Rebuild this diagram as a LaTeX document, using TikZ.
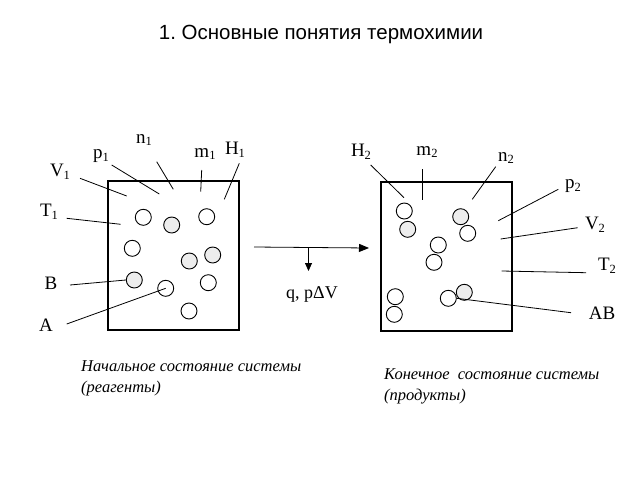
\documentclass[tikz,border=0pt]{standalone}
\usepackage{fontspec}
\setmainfont{Liberation Serif}
\newfontfamily\titlefont{Liberation Sans}
\usetikzlibrary{arrows.meta}
\newcommand{\sbs}[1]{\raisebox{-0.3ex}{\fontsize{12.5}{12.5}\selectfont #1}}
\frenchspacing
\begin{document}
\begin{tikzpicture}[x=1pt,y=-1pt,
  lbl/.style={font=\fontsize{19}{19}\selectfont, inner sep=0},
  ball/.style={circle, draw, line width=0.9pt, minimum size=16pt, inner sep=0},
  sball/.style={ball, fill=gray!14},
  ln/.style={line width=0.8pt},
  sysbox/.style={draw, line width=1.2pt, minimum width=131pt, minimum height=149pt, inner sep=0},
  capt/.style={font=\fontsize{16.5}{21}\selectfont\itshape, align=left, anchor=north west, inner sep=0}]
\useasboundingbox (0,0) rectangle (640,480);
% title
\node[font=\titlefont\fontsize{20.5}{20.5}\selectfont, inner sep=0] (title) at (321,34) {1. Основные понятия термохимии};
% boxes
\node[sysbox] (L) at (173.5,255.5) {};
\node[sysbox] (R) at (446.5,256.5) {};
% left balls
\node[ball]  (l1) at (143.3,217.3) {};
\node[sball] (l2) at (171.7,225) {};
\node[ball]  (l3) at (206.7,216.7) {};
\node[ball]  (l4) at (132.3,248.3) {};
\node[sball] (l5) at (212.7,255) {};
\node[sball] (l6) at (189.3,261) {};
\node[sball] (lB) at (134.3,280) {};
\node[ball]  (l8) at (208.3,282.7) {};
\node[ball]  (lA) at (165.7,288.3) {};
\node[ball]  (l10) at (189,311) {};
% right balls
\node[ball]  (r1) at (404.3,211) {};
\node[sball] (r2) at (407.7,229.3) {};
\node[sball] (r3) at (460.7,216.7) {};
\node[ball]  (r4) at (467.7,233.3) {};
\node[ball]  (r5) at (438.3,245) {};
\node[ball]  (r6) at (434,262.3) {};
\node[ball]  (r7) at (395.3,296.7) {};
\node[ball]  (r8) at (394.3,314.3) {};
\node[ball]  (rAB) at (448.3,298.3) {};
\node[sball] (r10) at (464.3,292.3) {};
% left labels
\node[lbl] (n1) at (144,140) {n\sbs{1}};
\node[lbl] (p1) at (101,156) {p\sbs{1}};
\node[lbl] (m1) at (205,154) {m\sbs{1}};
\node[lbl] (H1) at (235,150) {H\sbs{1}};
\node[lbl] (V1) at (60,172) {V\sbs{1}};
\node[lbl] (T1) at (49,212) {T\sbs{1}};
\node[lbl] (B)  at (51,283) {B};
\node[lbl] (A)  at (46,325) {A};
\coordinate (n1e) at (173.3,189.3);
\coordinate (n1s) at (156.7,161.7);
\coordinate (p1s) at (111.7,165);
\coordinate (p1e) at (159.3,194);
\coordinate (m1s) at (201.7,170);
\coordinate (m1e) at (200.7,191.7);
\coordinate (H1s) at (239.3,163.3);
\coordinate (H1e) at (224.3,199.3);
\coordinate (V1s) at (80,178.3);
\coordinate (V1e) at (126.7,196);
\coordinate (T1s) at (66.7,218.3);
\coordinate (T1e) at (120.7,224.3);
\coordinate (Bs) at (70,285);
\coordinate (As) at (66.7,324);
\draw[ln] (n1s) -- (n1e);
\draw[ln] (p1s) -- (p1e);
\draw[ln] (m1s) -- (m1e);
\draw[ln] (H1s) -- (H1e);
\draw[ln] (V1s) -- (V1e);
\draw[ln] (T1s) -- (T1e);
\draw[ln] (Bs) -- (lB.west);
\draw[ln] (As) -- (lA.center);
% right labels
\node[lbl] (H2) at (361,152) {H\sbs{2}};
\node[lbl] (m2) at (427,152) {m\sbs{2}};
\node[lbl] (n2) at (506,158) {n\sbs{2}};
\node[lbl] (p2) at (573,186) {p\sbs{2}};
\node[lbl] (V2) at (595,225) {V\sbs{2}};
\node[lbl] (T2) at (607,266) {T\sbs{2}};
\node[lbl] (AB) at (602,313) {AB};
\coordinate (H2s) at (370.7,165);
\coordinate (H2e) at (404,197.7);
\coordinate (m2s) at (422.7,169.3);
\coordinate (m2e) at (422.7,200);
\coordinate (n2s) at (495.7,166.7);
\coordinate (n2e) at (472.3,199.3);
\coordinate (p2s) at (558.3,189.3);
\coordinate (p2e) at (498.3,220.7);
\coordinate (V2s) at (577.7,227.7);
\coordinate (V2e) at (500.7,239);
\coordinate (T2s) at (586,272.7);
\coordinate (T2e) at (501.7,271);
\coordinate (ABs) at (571,312.7);
\draw[ln] (H2s) -- (H2e);
\draw[ln] (m2s) -- (m2e);
\draw[ln] (n2s) -- (n2e);
\draw[ln] (p2s) -- (p2e);
\draw[ln] (V2s) -- (V2e);
\draw[ln] (T2s) -- (T2e);
\draw[ln] (ABs) -- (rAB.east);
% reaction arrow
\coordinate (a0) at (254,247);
\coordinate (a1) at (369,248);
\coordinate (d0) at (308.5,247.5);
\coordinate (d1) at (308.5,271);
\draw[ln, -{Triangle[length=10pt,width=8pt]}] (a0) -- (a1);
\draw[ln, -{Triangle[length=8pt,width=7pt]}] (d0) -- (d1);
\node[lbl, font=\fontsize{18}{18}\selectfont] (q) at (312,294) {q, pΔV};
% captions
\node[capt] (c1) at (81,360) {Начальное состояние системы\\(реагенты)};
\node[capt] (c2) at (384,368) {Конечное\ \ состояние системы\\(продукты)};
\end{tikzpicture}
\end{document}
